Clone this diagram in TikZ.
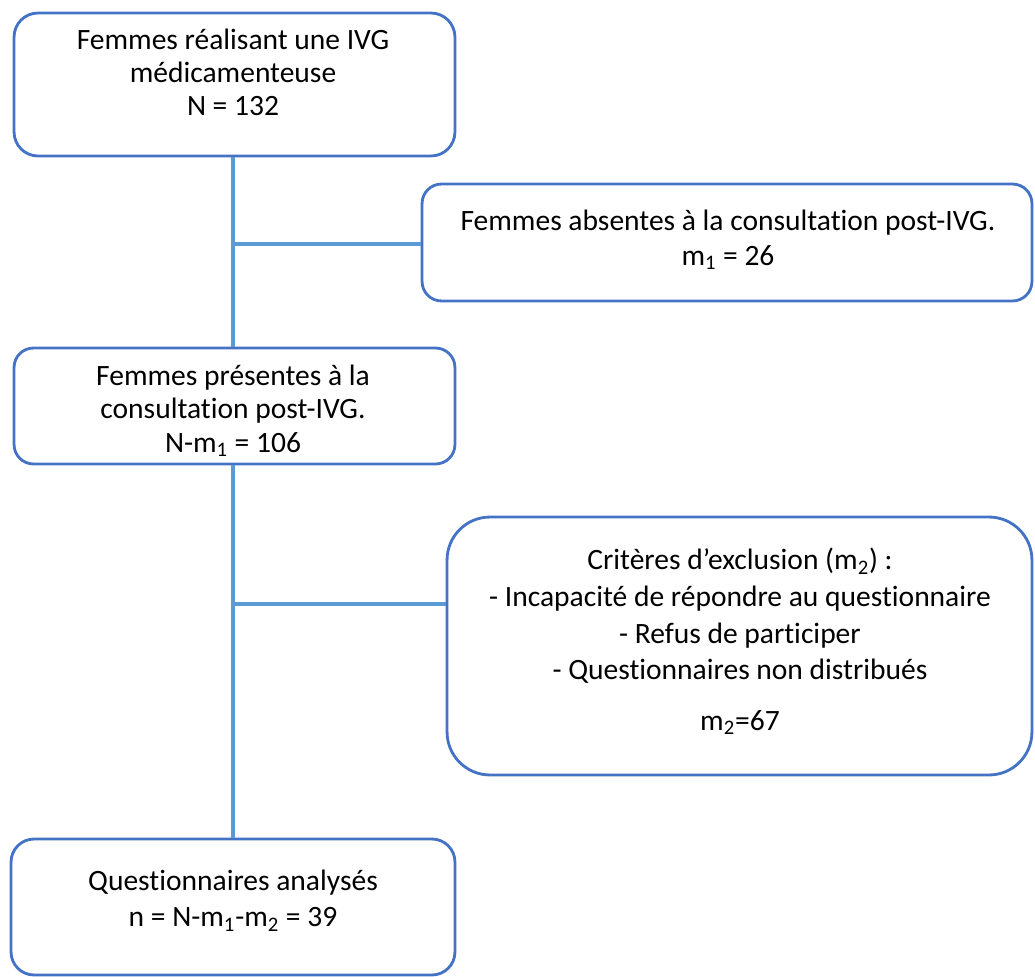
\documentclass[tikz,border=0pt]{standalone}
\usepackage{fontspec}
\setmainfont{Carlito}[Ligatures={TeX,NoCommon}]
\usepackage{tikz}
\usetikzlibrary{positioning}
\definecolor{boxblue}{HTML}{4472C4}
\definecolor{linkblue}{HTML}{5B9BD5}

\begin{document}
\begin{tikzpicture}[x=0.02cm, y=-0.02cm, align=center,
	font=\fontsize{16.8}{18.8}\selectfont,
	bloc/.style={rectangle, draw=boxblue, line width=1.6pt, inner sep=0pt},
	lien/.style={draw=linkblue, line width=2.2pt},
	txt/.style={inner sep=0pt},
]
\useasboundingbox (0,0) rectangle (1035,977);
%
\node [bloc, rounded corners=0.48cm, minimum width=8.82cm, minimum height=2.86cm] (F) at (234.5,84.5) {};
\node [bloc, rounded corners=0.39cm, minimum width=12.2cm, minimum height=2.34cm] (A) at (727,242.5) {};
\node [bloc, rounded corners=0.39cm, minimum width=8.82cm, minimum height=2.32cm] (P) at (234.5,406) {};
\node [bloc, rounded corners=0.86cm, minimum width=11.7cm, minimum height=5.16cm] (E) at (739.5,646) {};
\node [bloc, rounded corners=0.46cm, minimum width=8.88cm, minimum height=2.72cm] (Q) at (233,907) {};
%
\node [txt] (tF) at (233,72) {Femmes réalisant une IVG\\ médicamenteuse\\ N = 132};
\node [txt, font=\fontsize{16.8}{19.5}\selectfont] (tA) at (728,240) {Femmes absentes à la consultation post-IVG.\\ m\textsubscript{1} = 26};
\node [txt] (tP) at (233,411) {Femmes présentes à la\\ consultation post-IVG.\\ N-m\textsubscript{1} = 106};
\node [txt, font=\fontsize{16.8}{20.8}\selectfont] (tE) at (740,641.5) {Critères d’exclusion (m\textsubscript{2}) :\\ - Incapacité de répondre au questionnaire\\ - Refus de participer\\ - Questionnaires non distribués\\[0.28cm] m\textsubscript{2}=67};
\node [txt, font=\fontsize{16.8}{20.5}\selectfont] (tQ) at (233,901) {Questionnaires analysés\\ n = N-m\textsubscript{1}-m\textsubscript{2} = 39};
%
\coordinate (j1) at (233,244);
\coordinate (j2) at (233,604);
\draw [lien] (F.south -| j1) -- (P.north -| j1);
\draw [lien] (P.south -| j1) -- (Q.north -| j1);
\draw [lien] (j1) -- (j1 -| A.west);
\draw [lien] (j2) -- (j2 -| E.west);
\end{tikzpicture}
\end{document}
